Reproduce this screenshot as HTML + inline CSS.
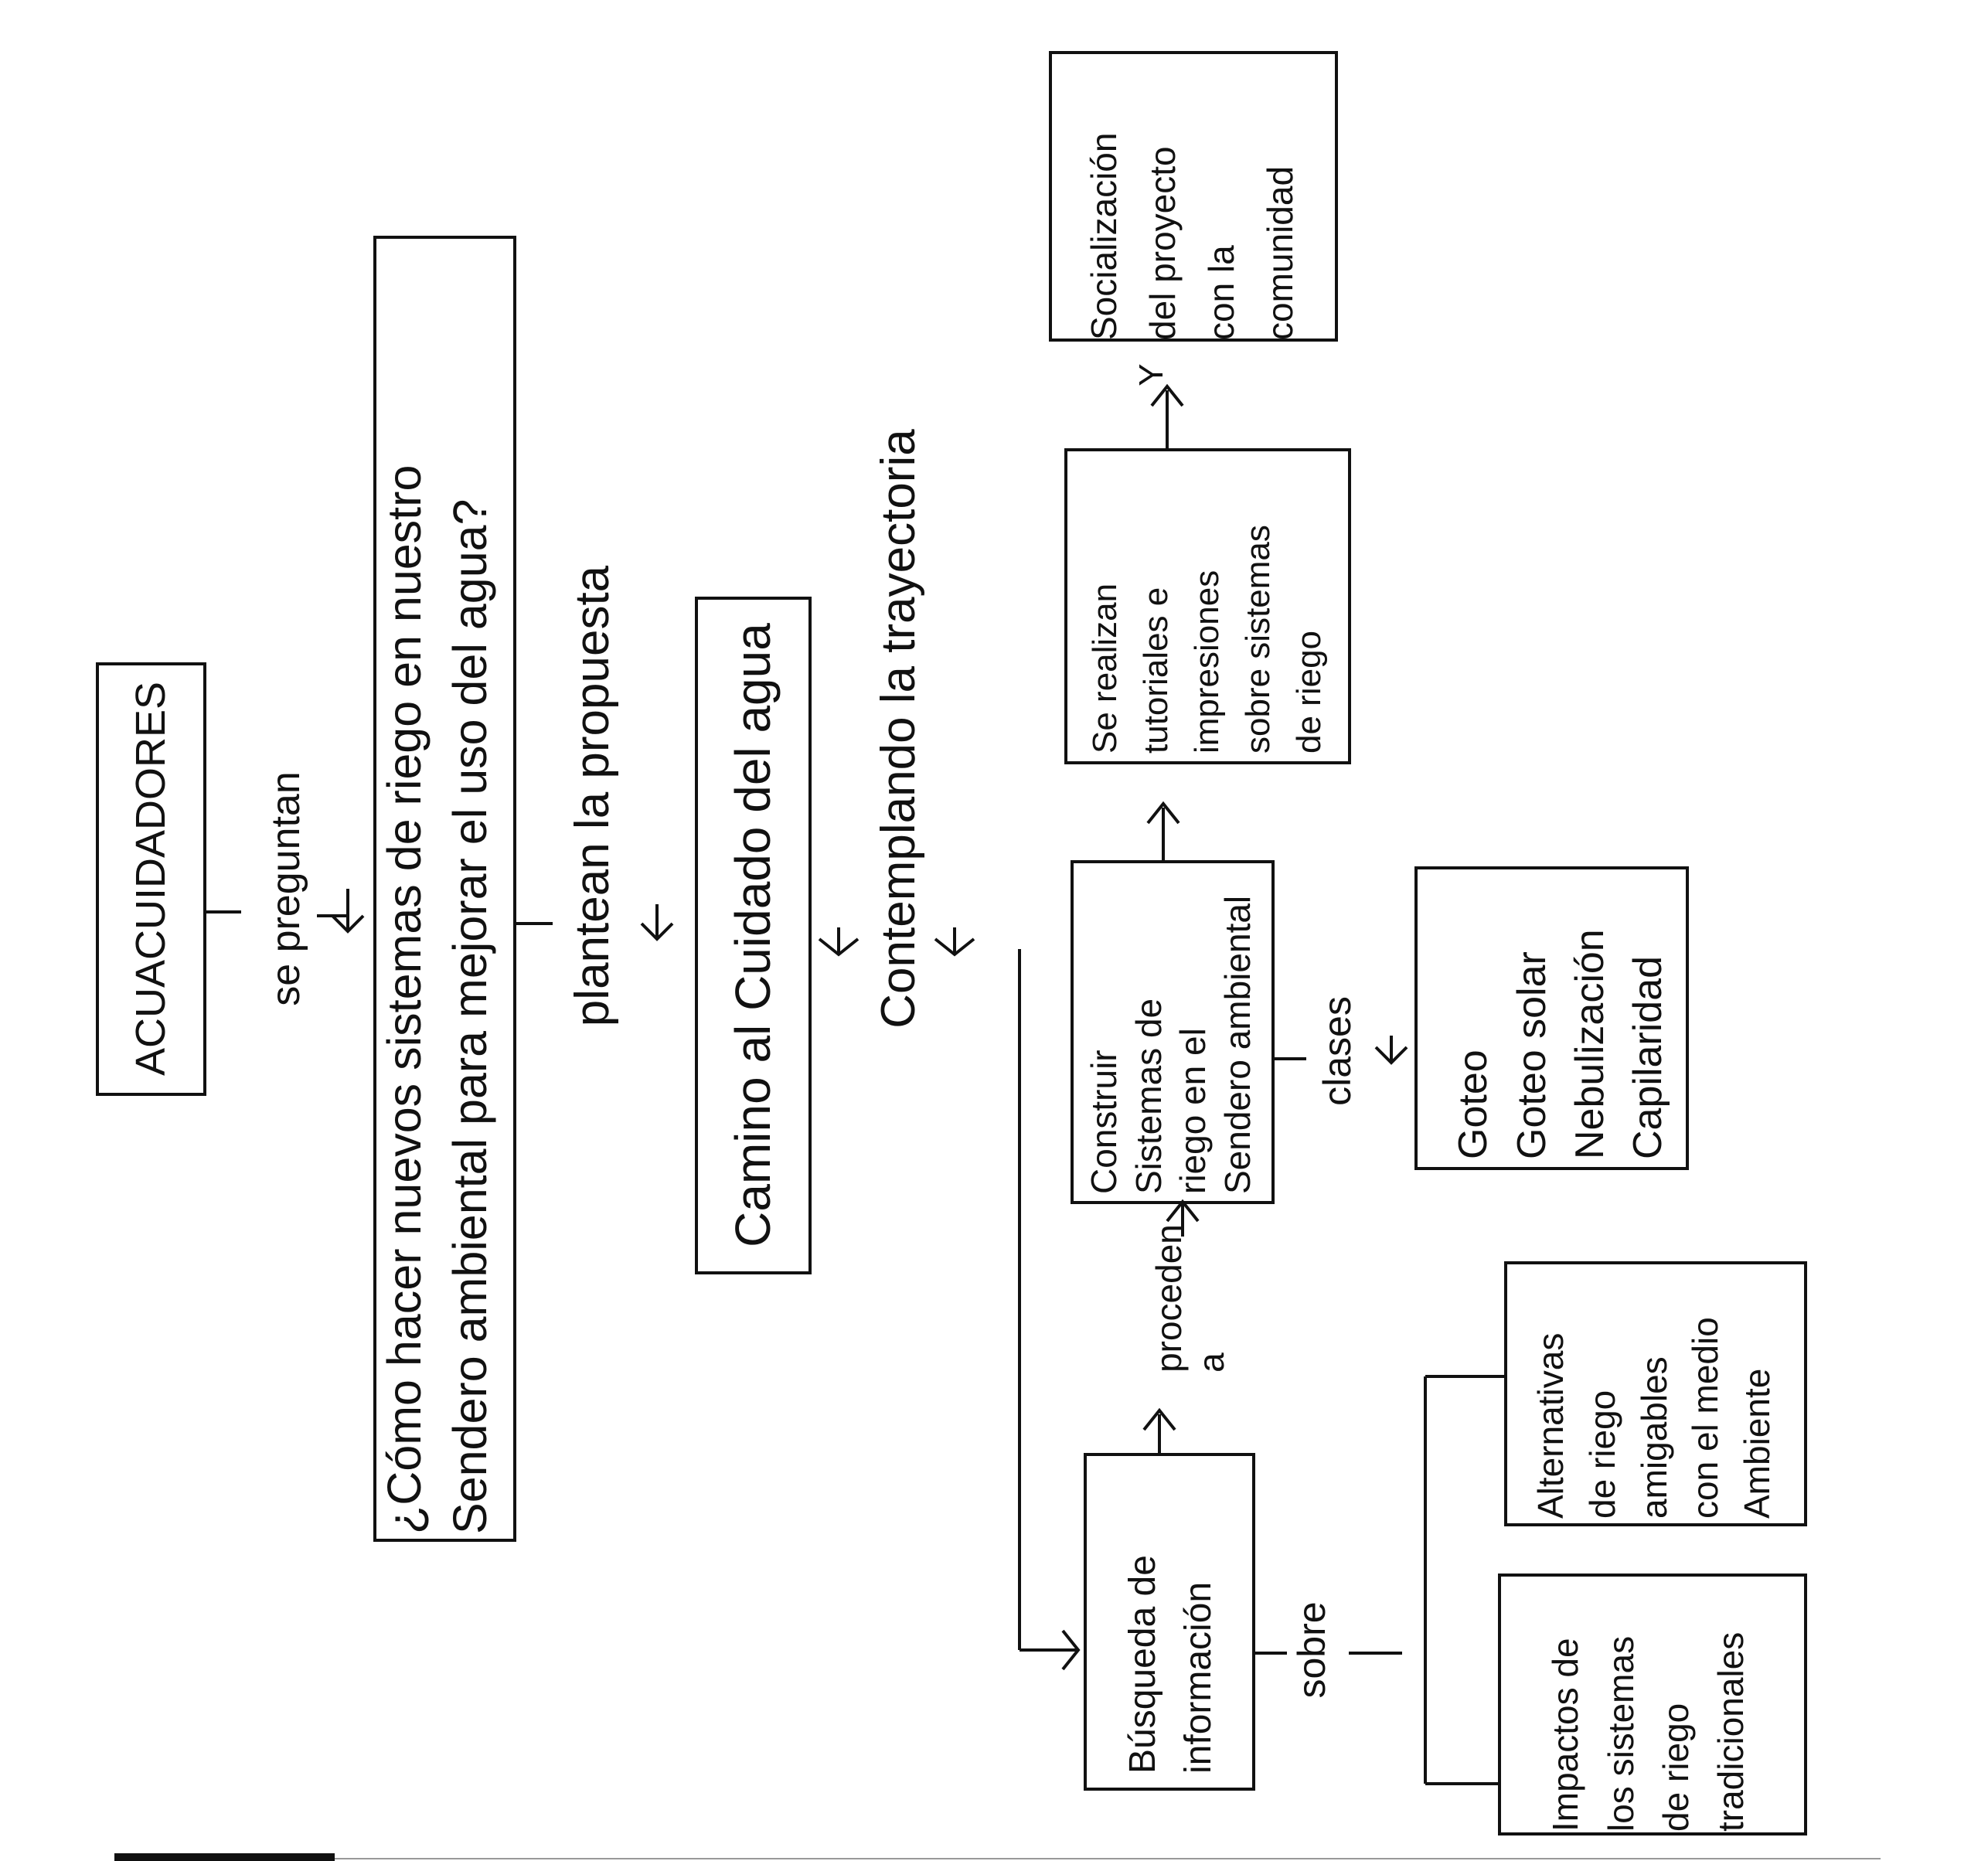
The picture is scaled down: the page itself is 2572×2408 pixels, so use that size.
<!DOCTYPE html>
<html><head><meta charset="utf-8"><style>
html,body{margin:0;padding:0;background:#fff;}
body{width:2572px;height:2408px;position:relative;overflow:hidden;font-family:"Liberation Sans",sans-serif;color:#111;}
.b{position:absolute;border:4px solid #111;box-sizing:border-box;}
.t{position:absolute;display:flex;flex-direction:column;justify-content:center;align-items:flex-start;transform:rotate(-90deg);white-space:nowrap;line-height:1.15;}
.c{align-items:center;}
svg{position:absolute;left:0;top:0;}
</style></head><body>
<div class="b" style="left:124px;top:857px;width:143px;height:561px"></div>
<div class="b" style="left:483px;top:305px;width:185px;height:1690px"></div>
<div class="b" style="left:899px;top:772px;width:151px;height:877px"></div>
<div class="b" style="left:1357px;top:66px;width:374px;height:376px"></div>
<div class="b" style="left:1377px;top:580px;width:371px;height:409px"></div>
<div class="b" style="left:1385px;top:1113px;width:264px;height:445px"></div>
<div class="b" style="left:1830px;top:1121px;width:355px;height:393px"></div>
<div class="b" style="left:1946px;top:1632px;width:392px;height:343px"></div>
<div class="b" style="left:1938px;top:2036px;width:400px;height:339px"></div>
<div class="b" style="left:1402px;top:1880px;width:222px;height:437px"></div>

<svg width="2572" height="2408" fill="none" stroke="#111" stroke-width="4">
<line x1="267" y1="1180" x2="312" y2="1180"/>
<line x1="450" y1="1150" x2="450" y2="1205"/><line x1="410" y1="1185" x2="450" y2="1185"/>
<polyline points="430,1185 450,1205 470,1185"/>
<line x1="668" y1="1195" x2="715" y2="1195"/>
<line x1="850" y1="1170" x2="850" y2="1215"/>
<polyline points="830,1195 850,1215 870,1195"/>
<line x1="1085" y1="1200" x2="1085" y2="1235"/>
<polyline points="1060,1215 1085,1235 1110,1215"/>
<line x1="1235" y1="1200" x2="1235" y2="1235"/>
<polyline points="1210,1215 1235,1235 1260,1215"/>
<line x1="1319" y1="1228" x2="1319" y2="2135"/>
<line x1="1319" y1="2135" x2="1395" y2="2135"/>
<polyline points="1375,2110 1395,2135 1375,2160"/>
<line x1="1624" y1="2139" x2="1665" y2="2139"/>
<line x1="1745" y1="2139" x2="1814" y2="2139"/>
<line x1="1844" y1="1781" x2="1844" y2="2308"/>
<line x1="1844" y1="1781" x2="1946" y2="1781"/>
<line x1="1844" y1="2308" x2="1938" y2="2308"/>
<line x1="1500" y1="1880" x2="1500" y2="1830"/>
<polyline points="1480,1850 1500,1825 1520,1850"/>
<line x1="1505" y1="1113" x2="1505" y2="1045"/>
<polyline points="1485,1065 1505,1040 1525,1065"/>
<line x1="1510" y1="580" x2="1510" y2="505"/>
<polyline points="1490,525 1510,500 1530,525"/>
<line x1="1530" y1="1558" x2="1530" y2="1600"/>
<polyline points="1510,1580 1530,1555 1550,1580"/>
<line x1="1649" y1="1370" x2="1690" y2="1370"/>
<line x1="1800" y1="1340" x2="1800" y2="1375"/>
<polyline points="1780,1355 1800,1375 1820,1355"/>
</svg>

<div class="t c" style="left:-85px;top:1102px;width:560px;height:70px;font-size:54px">ACUACUIDADORES</div>
<div class="t c" style="left:196px;top:1120px;width:350px;height:60px;font-size:52px">se preguntan</div>
<div class="t" style="left:-269px;top:1070px;width:1670px;height:160px;font-size:61px;line-height:1.4">¿Cómo hacer nuevos sistemas de riego en nuestro<br>Sendero ambiental para mejorar el uso del agua?</div>
<div class="t c" style="left:427px;top:995px;width:680px;height:70px;font-size:62px">plantean la propuesta</div>
<div class="t c" style="left:545px;top:1175px;width:860px;height:70px;font-size:64px">Camino al Cuidado del agua</div>
<div class="t c" style="left:738px;top:908px;width:850px;height:70px;font-size:62px">Contemplando la trayectoria</div>
<div class="t" style="left:1358px;top:90px;width:370px;height:330px;font-size:46px;line-height:1.65">Socialización<br>del proyecto<br>con la<br>comunidad</div>
<div class="t" style="left:1367px;top:600px;width:390px;height:360px;font-size:44px;line-height:1.5">Se realizan<br>tutoriales e<br>impresiones<br>sobre sistemas<br>de riego</div>
<div class="t" style="left:1300px;top:1205px;width:430px;height:250px;font-size:46px;line-height:1.25">Construir<br>Sistemas de<br>riego en el<br>Sendero ambiental</div>
<div class="t" style="left:1830px;top:1145px;width:380px;height:330px;font-size:52px;line-height:1.45">Goteo<br>Goteo solar<br>Nebulización<br>Capilaridad</div>
<div class="t" style="left:1975px;top:1635px;width:330px;height:330px;font-size:46px;line-height:1.45">Alternativas<br>de riego<br>amigables<br>con el medio<br>Ambiente</div>
<div class="t" style="left:1968px;top:2040px;width:330px;height:330px;font-size:46px;line-height:1.55">Impactos de<br>los sistemas<br>de riego<br>tradicionales</div>
<div class="t" style="left:1310px;top:1990px;width:410px;height:200px;font-size:48px;line-height:1.5">Búsqueda de<br>información</div>
<div class="t c" style="left:1656px;top:1330px;width:150px;height:60px;font-size:50px">clases</div>
<div class="t c" style="left:1628px;top:2105px;width:140px;height:60px;font-size:50px">sobre</div>
<div class="t c" style="left:1440px;top:1625px;width:200px;height:110px;font-size:46px;line-height:1.2">proceden<br>a</div>
<div class="t c" style="left:1465px;top:460px;width:50px;height:50px;font-size:44px">Y</div>

<div style="position:absolute;left:148px;top:2398px;width:285px;height:10px;background:#111"></div>
<div style="position:absolute;left:433px;top:2404px;width:2000px;height:2px;background:#999"></div>
</body></html>
